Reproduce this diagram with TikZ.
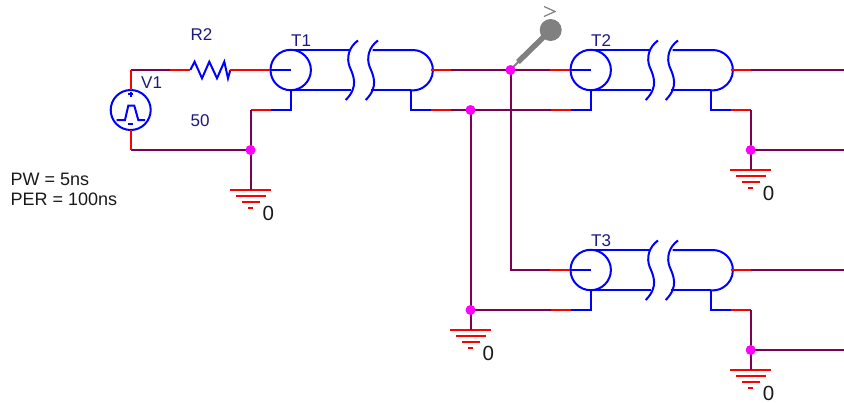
\documentclass[tikz,border=0pt]{standalone}
\usepackage{fontspec}
\setmainfont{Liberation Sans}
\definecolor{wirep}{RGB}{128,0,80}
\definecolor{wirer}{RGB}{255,0,0}
\definecolor{symb}{RGB}{0,0,255}
\definecolor{junc}{RGB}{255,0,255}
\definecolor{navy}{RGB}{25,25,128}
\definecolor{probe}{RGB}{128,128,128}
\tikzset{
  x=1pt,y=-1pt,
  wp/.style={draw=wirep,line width=2pt},
  wr/.style={draw=wirer,line width=2pt},
  sym/.style={draw=symb,line width=2pt},
  junction/.style={circle,fill=junc,inner sep=0pt,minimum size=10pt},
  reflabel/.style={text=navy,inner sep=0pt,font=\fontsize{17}{20}\selectfont},
  blacklabel/.style={text=black!90,inner sep=0pt,font=\fontsize{18}{20}\selectfont},
  zerolabel/.style={text=black!90,inner sep=0pt,font=\fontsize{20.5}{24}\selectfont},
  tline/.pic={
    \coordinate (-in) at (-20.7,0);
    \coordinate (-out) at (140,0);
    \coordinate (-gl) at (-20,40);
    \coordinate (-gr) at (140,40);
    \draw[sym] (0,0) circle[radius=20.2];
    \draw[sym] (-20.7,0) -- (0,0);
    \draw[sym] (0,-20) -- (60,-20);
    \draw[sym] (0,20) -- (60,20);
    \draw[sym] (0,20) -- (0,40) -- (-20,40);
    \draw[sym] (67.3,-29.5) .. controls (58,-23) and (55.5,-12) .. (59,-3)
      .. controls (63,6) and (68,17) .. (55,30);
    \draw[sym] (87.3,-29.5) .. controls (78,-23) and (75.5,-12) .. (79,-3)
      .. controls (83,6) and (88,17) .. (75,30);
    \draw[sym] (82,-20) -- (122,-20) arc[start angle=-90,end angle=100,radius=20.2];
    \draw[sym] (80,20) -- (120,20);
    \draw[sym] (120,20) -- (120,40) -- (140,40);
  },
  groundsym/.pic={
    \coordinate (-top) at (0,0);
    \draw[wr] (-20.5,0) -- (20.5,0);
    \draw[wr] (-14.5,6) -- (15,6);
    \draw[wr] (-8.5,12) -- (9,12);
    \draw[wr] (-2.5,18) -- (2.5,18);
  },
  vsource/.pic={
    \coordinate (-top) at (0,-20);
    \coordinate (-bot) at (0,20);
    \draw[sym] (0,0) circle[radius=20];
    \draw[sym] (-14,10) -- (-5.7,10) -- (-2.4,-4.3) -- (3.6,-4.3) -- (7.6,10) -- (14.3,10);
    \draw[symb,line width=1.6pt] (-2.5,-16) -- (2.5,-16) (0,-18.5) -- (0,-13.5);
    \draw[symb,line width=1.8pt] (-2.5,14) -- (2.5,14);
  },
  resistor/.pic={
    \coordinate (-l) at (0,0);
    \coordinate (-r) at (40,0);
    \draw[sym,line join=miter] (0,0) -- (4.3,-8.3) -- (11.7,8.3) -- (19,-8.3) -- (26.7,8.3) -- (34,-8.3) -- (37.7,8.3) -- (40,0);
  },
}
\begin{document}
\begin{tikzpicture}
\useasboundingbox (0,0) rectangle (844,402);
% symbols
\pic (v1) at (130.7,110) {vsource};
\pic (r2) at (190.3,70) {resistor};
\pic (t1) at (290.7,70) {tline};
\pic (t2) at (590.7,70) {tline};
\pic (t3) at (590.7,270) {tline};
\pic (g1) at (250.5,190) {groundsym};
\pic (g2) at (470.5,330) {groundsym};
\pic (g3) at (750.7,170) {groundsym};
\pic (g4) at (750.7,370) {groundsym};
% net points
\coordinate (c1) at (v1-top |- r2-l);
\coordinate (j1p) at (250.5,150);
\coordinate (c2) at (v1-bot |- j1p);
\coordinate (c3) at (g1-top |- t1-gl);
\coordinate (j3p) at (470.5,110);
\coordinate (j4p) at (470.5,310);
\coordinate (j2p) at (510.5,70);
\coordinate (c4) at (j2p |- t3-in);
\coordinate (c5) at (g3-top |- t2-gr);
\coordinate (j5p) at (750.7,150);
\coordinate (c6) at (g4-top |- t3-gr);
\coordinate (j6p) at (750.7,350);
\coordinate (e1) at (844,70);
\coordinate (e2) at (844,150);
\coordinate (e3) at (844,270);
\coordinate (e4) at (844,350);
% purple wires
\draw[wp] (c1) -- (r2-l);
\draw[wp] (c2) -- (j1p);
\draw[wp] (t1-out) -- (t2-in);
\draw[wp] (t1-gr) -- (t2-gl);
\draw[wp] (j2p) -- (c4) -- (t3-in);
\draw[wp] (j4p) -- (t3-gl);
\draw[wp] (t2-out) -- (e1);
\draw[wp] (t3-out) -- (e3);
\draw[wp] (j5p) -- (e2);
\draw[wp] (j6p) -- (e4);
% red stubs
\draw[wr] (c1) -- (v1-top);
\draw[wr] (c2) -- (v1-bot);
\draw[wr] (r2-l) -- ++(-20,0);
\draw[wr] (r2-r) -- (t1-in);
\draw[wr] (t1-gl) -- (c3);
\draw[wr] (t1-out) -- ++(20,0);
\draw[wr] (t2-in) -- ++(-20,0);
\draw[wr] (t1-gr) -- ++(20,0);
\draw[wr] (t2-gl) -- ++(-20,0);
\draw[wr] (t2-out) -- ++(20,0);
\draw[wr] (t2-gr) -- (c5);
\draw[wr] (t3-in) -- ++(-20,0);
\draw[wr] (t3-gl) -- ++(-20,0);
\draw[wr] (t3-out) -- ++(20,0);
\draw[wr] (t3-gr) -- (c6);
% vertical purple wires over the corners
\draw[wp] (c3) -- (g1-top);
\draw[wp] (j3p) -- (g2-top);
\draw[wp] (c5) -- (g3-top);
\draw[wp] (c6) -- (g4-top);
% probe
\coordinate (pb) at (550.7,30);
\draw[draw=probe,line width=2pt] (j2p) -- (520,60);
\draw[draw=probe,line width=5.5pt] (518,62) -- (pb);
\fill[probe] (pb) circle[radius=11];
\draw[draw=probe,line width=1.2pt] (544,6.5) -- (555,11.5) -- (544,16.5);
% junctions
\node[junction] (j1) at (j1p) {};
\node[junction] (j2) at (j2p) {};
\node[junction] (j3) at (j3p) {};
\node[junction] (j4) at (j4p) {};
\node[junction] (j5) at (j5p) {};
\node[junction] (j6) at (j6p) {};
% labels
\node[reflabel,anchor=base west] (lv1) at (141,88) {V1};
\node[reflabel,anchor=base west] (lr2) at (190.5,40) {R2};
\node[reflabel,anchor=base west] (l50) at (190.5,126.5) {50};
\node[reflabel,anchor=base west] (lt1) at (291,46) {T1};
\node[reflabel,anchor=base west] (lt2) at (591,46) {T2};
\node[reflabel,anchor=base west] (lt3) at (591,246) {T3};
\node[blacklabel,anchor=base west] (pw) at (10.5,185) {PW = 5ns};
\node[blacklabel,anchor=base west] (per) at (10.5,205) {PER = 100ns};
\node[zerolabel,anchor=base west] (z1) at (262.5,220) {0};
\node[zerolabel,anchor=base west] (z2) at (482.5,360) {0};
\node[zerolabel,anchor=base west] (z3) at (762.7,200) {0};
\node[zerolabel,anchor=base west] (z4) at (762.7,400) {0};
\end{tikzpicture}
\end{document}
